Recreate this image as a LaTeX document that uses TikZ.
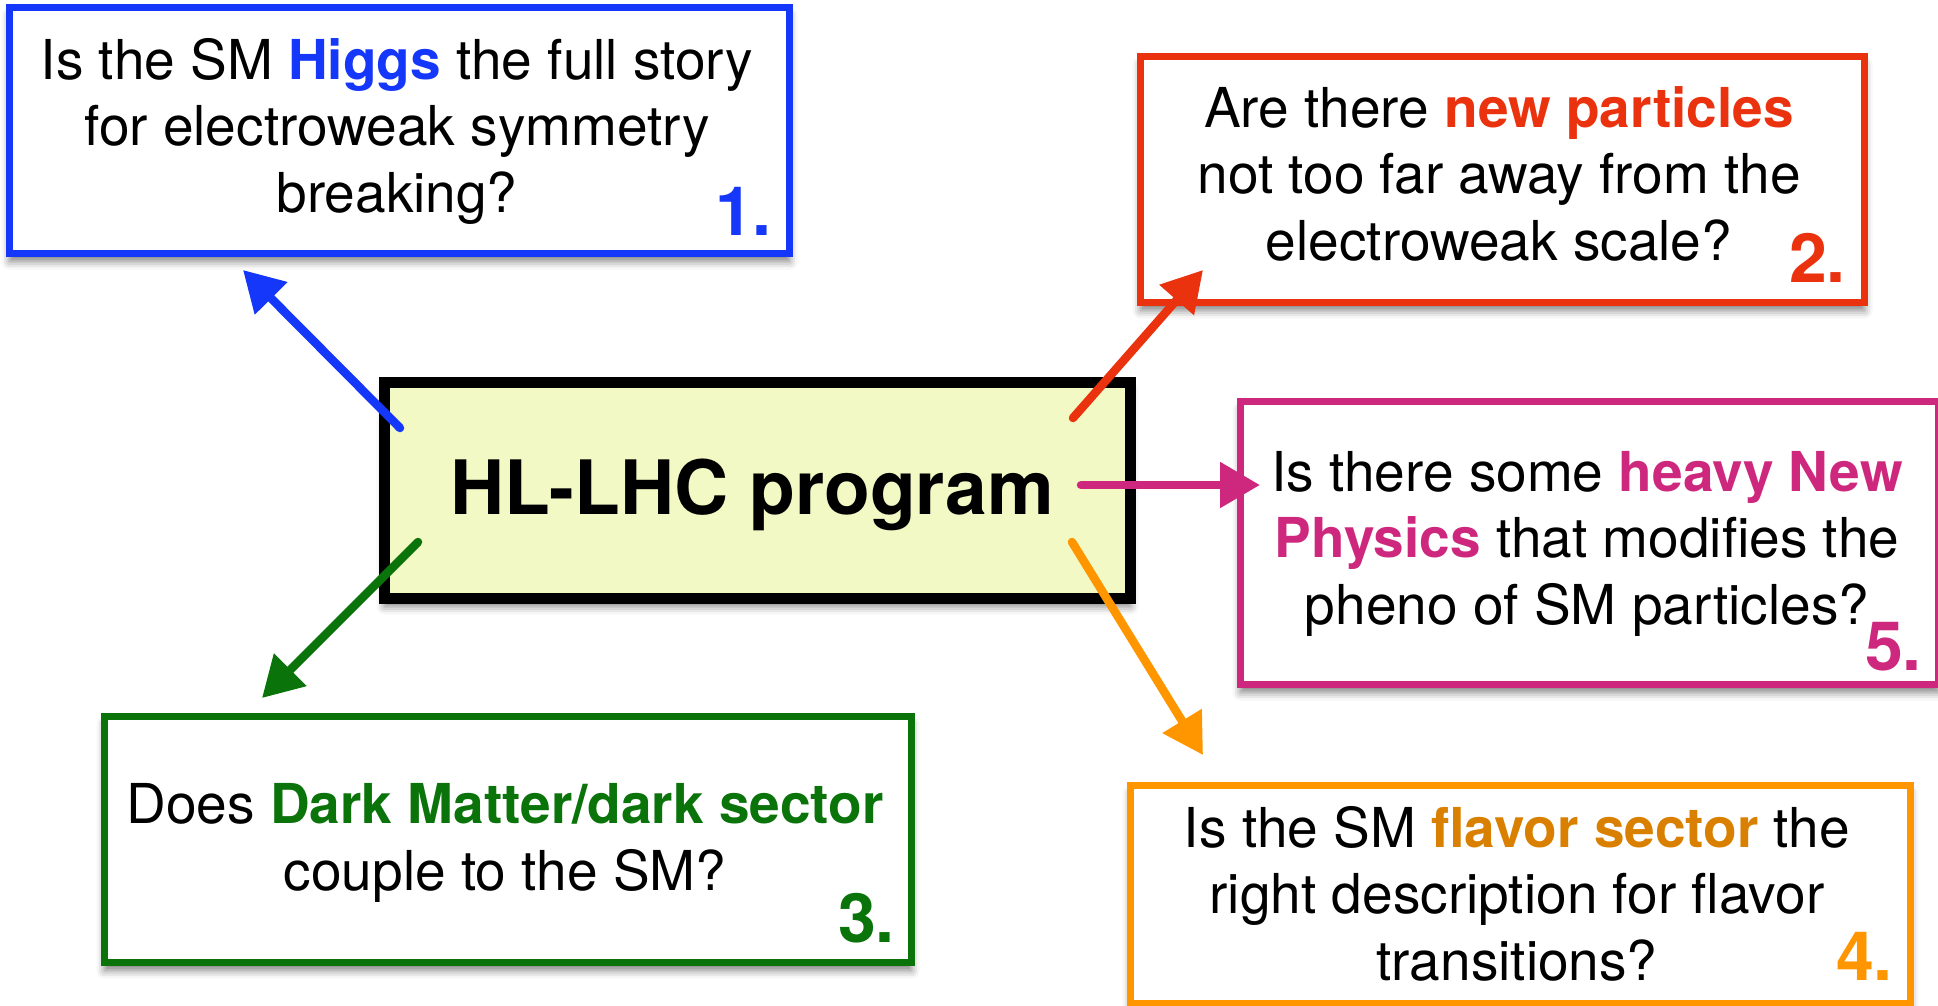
\documentclass[tikz,border=0pt]{standalone}
\usepackage{fontspec}
\setmainfont{TeX Gyre Heros}
\usetikzlibrary{arrows.meta,shadows.blur}

\definecolor{qblue}{RGB}{20,55,250}
\definecolor{qred}{RGB}{235,50,15}
\definecolor{qgreen}{RGB}{10,115,10}
\definecolor{qorange}{RGB}{255,150,0}
\definecolor{qorangetext}{RGB}{218,128,0}
\definecolor{qmagenta}{RGB}{205,40,125}
\definecolor{corefill}{RGB}{242,249,196}

\tikzset{
  softshadow/.style={blur shadow={shadow xshift=0pt, shadow yshift=-8pt,
      shadow blur radius=8pt, shadow opacity=50}},
  qbox/.style={draw=#1, line width=7pt, fill=white, softshadow,
      anchor=north west, inner sep=0pt},
  % the base anchor of a multi-line node sits on its last line
  qtext/.style={align=center, anchor=base, inner sep=0pt,
      font=\fontsize{55}{66.5}\selectfont},
  qnum/.style={anchor=base east, inner sep=0pt, text=#1,
      font=\fontsize{68}{68}\selectfont\bfseries},
  qarrow/.style={draw=#1, line width=8.5pt, line cap=round,
      -{Triangle[length=40pt,width=44pt]}}
}

\begin{document}
\begin{tikzpicture}[x=1pt, y=-1pt]
  \useasboundingbox (0,0) rectangle (1938,1005);

  % question boxes
  \node[qbox=qblue,    minimum width=780pt, minimum height=246pt] (q1) at (6,4) {};
  \node[qbox=qred,     minimum width=724pt, minimum height=246pt] (q2) at (1137,53) {};
  \node[qbox=qgreen,   minimum width=807pt, minimum height=246pt] (q3) at (101,713) {};
  \node[qbox=qorange,  minimum width=780pt, minimum height=218pt] (q4) at (1127,782) {};
  \node[qbox=qmagenta, minimum width=698pt, minimum height=283pt] (q5) at (1237,398) {};

  % central box
  \node[draw=black, line width=11pt, fill=corefill, softshadow, anchor=north west,
        minimum width=746pt, minimum height=216pt, inner sep=0pt] (core) at (379,377) {};
  \node[anchor=base, inner sep=0pt, font=\fontsize{75}{75}\selectfont\bfseries]
        (coretxt) at (752,514) {HL-LHC program};

  % question texts
  \node[qtext] (t1) at (397,212) {Is the SM \textcolor{qblue}{\bfseries Higgs} the full story\\
        for electroweak symmetry\\breaking?};
  \node[qnum=qblue] (n1) at (772,235) {1.};

  \node[qtext] (t2) at (1499,260) {Are there \textcolor{qred}{\bfseries new particles}\\
        not too far away from the\\electroweak scale?};
  \node[qnum=qred] (n2) at (1846,282) {2.};

  \node[qtext] (t3) at (505,890) {Does \textcolor{qgreen}{\bfseries Dark Matter/dark sector}\\
        couple to the SM?};
  \node[qnum=qgreen] (n3) at (895,942) {3.};

  \node[qtext] (t4) at (1517,980) {Is the SM \textcolor{qorangetext}{\bfseries flavor sector} the\\
        right description for flavor\\transitions?};
  \node[qnum=qorange] (n4) at (1893,980) {4.};

  \node[qtext] (t5) at (1587,624) {Is there some \textcolor{qmagenta}{\bfseries heavy New}\\
        \textcolor{qmagenta}{\bfseries Physics} that modifies the\\pheno of SM particles?};
  \node[qnum=qmagenta] (n5) at (1922,670) {5.};

  % arrow ends
  \coordinate (a1s) at (400,428);  \coordinate (a1e) at (243,270);
  \coordinate (a2s) at (1073,418); \coordinate (a2e) at (1203,270);
  \coordinate (a3s) at (418,542);  \coordinate (a3e) at (262,698);
  \coordinate (a4s) at (1072,542); \coordinate (a4e) at (1203,755);
  \coordinate (a5s) at (1081,485); \coordinate (a5e) at (1260,485);

  % arrows from the programme to the questions
  \draw[qarrow=qblue]    (a1s) -- (a1e);
  \draw[qarrow=qred]     (a2s) -- (a2e);
  \draw[qarrow=qgreen]   (a3s) -- (a3e);
  \draw[qarrow=qorange]  (a4s) -- (a4e);
  \draw[qarrow=qmagenta] (a5s) -- (a5e);
\end{tikzpicture}
\end{document}
